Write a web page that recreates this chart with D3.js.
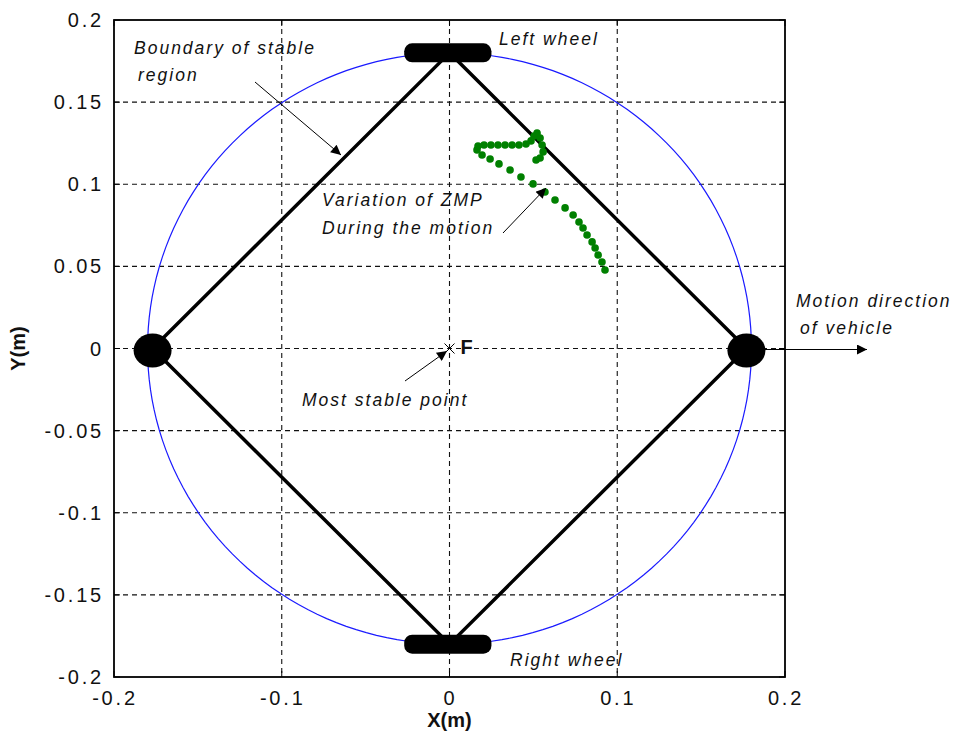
<!DOCTYPE html>
<html>
<head>
<meta charset="utf-8">
<script src="https://cdn.jsdelivr.net/npm/d3@7"></script>
<style>
  html, body { margin: 0; padding: 0; background: #fff; }
  svg { display: block; }
  .tick-label { font-family: "Liberation Sans", Arial, sans-serif; font-size: 20px; letter-spacing: 2.8px; fill: #111; }
  .note { font-family: "Liberation Sans", Arial, sans-serif; font-size: 17.5px; font-style: italic; letter-spacing: 2px; fill: #111; }
  .axis-title { font-family: "Liberation Sans", Arial, sans-serif; font-size: 20px; font-weight: bold; fill: #111; }
</style>
</head>
<body>
<svg id="chart" width="959" height="747"></svg>
<script>
// Axis ticks (metres)
const xTicks = [-0.2, -0.1, 0, 0.1, 0.2];
const yTicks = [-0.2, -0.15, -0.1, -0.05, 0, 0.05, 0.1, 0.15, 0.2];
const xTickLabels = ["-0.2", "-0.1", "0", "0.1", "0.2"];
const yTickLabels = ["-0.2", "-0.15", "-0.1", "-0.05", "0", "0.05", "0.1", "0.15", "0.2"];

// Radius of the stable-region boundary (m)
const boundaryRadius = 0.18;

// Support polygon: left wheel, front caster, right wheel, rear caster
const supportX = [0, 0.177, 0, -0.177];
const supportY = [0.18, 0, -0.18, 0];

// ZMP trajectory during the motion (m)
const zmpX = [0.0927, 0.0909, 0.0886, 0.0868, 0.0850, 0.0820, 0.0796, 0.0772, 0.0737, 0.0689,
              0.0629, 0.0569, 0.0498, 0.0426, 0.0361, 0.0295, 0.0242, 0.0194, 0.0164, 0.0170,
              0.0206, 0.0247, 0.0289, 0.0331, 0.0373, 0.0414, 0.0456, 0.0486, 0.0504, 0.0522,
              0.0540, 0.0552, 0.0558, 0.0540, 0.0516];
const zmpY = [0.0478, 0.0527, 0.0569, 0.0612, 0.0649, 0.0691, 0.0734, 0.0770, 0.0813, 0.0856,
              0.0904, 0.0953, 0.1002, 0.1044, 0.1087, 0.1124, 0.1154, 0.1178, 0.1209, 0.1233,
              0.1239, 0.1239, 0.1239, 0.1239, 0.1239, 0.1239, 0.1245, 0.1264, 0.1294, 0.1312,
              0.1282, 0.1239, 0.1197, 0.1160, 0.1148];

const svg = d3.select("#chart");
const x = d3.scaleLinear().domain([-0.2, 0.2]).range([114, 785]);
const y = d3.scaleLinear().domain([-0.2, 0.2]).range([677, 20]);

// arrow heads
const defs = svg.append("defs");
defs.append("marker")
  .attr("id", "arrow").attr("viewBox", "0 0 10 10")
  .attr("refX", 10).attr("refY", 5)
  .attr("markerWidth", 15).attr("markerHeight", 10)
  .attr("markerUnits", "userSpaceOnUse")
  .attr("orient", "auto")
  .append("path").attr("d", "M0,0 L10,5 L0,10 Z").attr("fill", "#000");

// grid
const grid = svg.append("g").attr("stroke", "#111").attr("stroke-width", 1.1).attr("stroke-dasharray", "5,4");
grid.selectAll("line.gx").data(xTicks.slice(1, -1)).join("line")
  .attr("x1", d => x(d)).attr("x2", d => x(d)).attr("y1", y(0.2)).attr("y2", y(-0.2));
grid.selectAll("line.gy").data(yTicks.slice(1, -1)).join("line")
  .attr("y1", d => y(d)).attr("y2", d => y(d)).attr("x1", x(-0.2)).attr("x2", x(0.2));

// frame and inward ticks
svg.append("rect").attr("x", x(-0.2)).attr("y", y(0.2))
  .attr("width", x(0.2) - x(-0.2)).attr("height", y(-0.2) - y(0.2))
  .attr("fill", "none").attr("stroke", "#000").attr("stroke-width", 1.8);

const tk = svg.append("g").attr("stroke", "#000").attr("stroke-width", 1);
xTicks.forEach(t => {
  tk.append("line").attr("x1", x(t)).attr("x2", x(t)).attr("y1", y(-0.2)).attr("y2", y(-0.2) - 6);
  tk.append("line").attr("x1", x(t)).attr("x2", x(t)).attr("y1", y(0.2)).attr("y2", y(0.2) + 6);
});
yTicks.forEach(t => {
  tk.append("line").attr("y1", y(t)).attr("y2", y(t)).attr("x1", x(-0.2)).attr("x2", x(-0.2) + 6);
  tk.append("line").attr("y1", y(t)).attr("y2", y(t)).attr("x1", x(0.2)).attr("x2", x(0.2) - 6);
});

svg.append("g").selectAll("text").data(xTicks).join("text")
  .attr("class", "tick-label").attr("x", d => x(d) + 1).attr("y", y(-0.2) + 28)
  .attr("text-anchor", "middle").text((d, i) => xTickLabels[i]);
svg.append("g").selectAll("text").data(yTicks).join("text")
  .attr("class", "tick-label").attr("x", x(-0.2) - 10).attr("y", d => y(d) + 7)
  .attr("text-anchor", "end").text((d, i) => yTickLabels[i]);

svg.append("text").attr("class", "axis-title").attr("x", x(0)).attr("y", 727)
  .attr("text-anchor", "middle").text("X(m)");
svg.append("text").attr("class", "axis-title")
  .attr("transform", `translate(25,${y(0)}) rotate(-90)`)
  .attr("text-anchor", "middle").text("Y(m)");

// stable-region boundary
const circ = d3.range(0, 361, 2).map(a => [boundaryRadius * Math.cos(a * Math.PI / 180), boundaryRadius * Math.sin(a * Math.PI / 180)]);
svg.append("path").attr("d", d3.line().x(d => x(d[0])).y(d => y(d[1]))(circ))
  .attr("fill", "none").attr("stroke", "#1a1aff").attr("stroke-width", 1.2);

// support polygon
const poly = supportX.map((v, i) => [v, supportY[i]]);
svg.append("path").attr("d", d3.line().x(d => x(d[0])).y(d => y(d[1])).curve(d3.curveLinearClosed)(poly))
  .attr("fill", "none").attr("stroke", "#000").attr("stroke-width", 3.5);

// wheels (left wheel at top, right wheel at bottom)
[supportY[0], supportY[2]].forEach(wy => {
  svg.append("rect").attr("x", x(-0.027)).attr("y", y(wy) - 9.5)
    .attr("width", x(0.025) - x(-0.027)).attr("height", 19)
    .attr("rx", 8).attr("fill", "#000");
});
// casters
[supportX[1], supportX[3]].forEach(cx => {
  svg.append("ellipse").attr("cx", x(cx)).attr("cy", y(0) + 2)
    .attr("rx", 19).attr("ry", 17).attr("fill", "#000");
});

// motion direction arrow
svg.append("line").attr("x1", x(supportX[1]) + 18).attr("y1", y(0) + 1)
  .attr("x2", 867).attr("y2", y(0) + 1)
  .attr("stroke", "#000").attr("stroke-width", 1.2).attr("marker-end", "url(#arrow)");

// ZMP points
svg.append("g").selectAll("circle").data(zmpX).join("circle")
  .attr("cx", d => x(d)).attr("cy", (d, i) => y(zmpY[i]))
  .attr("r", 3.8).attr("fill", "#008000");

// most stable point
const fx = x(0), fy = y(0);
svg.append("path").attr("d", `M${fx-5},${fy-5}L${fx+5},${fy+5}M${fx-5},${fy+5}L${fx+5},${fy-5}`)
  .attr("stroke", "#000").attr("stroke-width", 1);
svg.append("text").attr("x", fx + 11).attr("y", fy + 5)
  .attr("font-family", "Liberation Sans, Arial, sans-serif").attr("font-size", 20)
  .attr("font-weight", "bold").attr("fill", "#111").text("F");

// annotation arrows
const arrows = [
  [255, 82, 341, 155],
  [503, 233, 546, 188],
  [405, 381, 447, 351]
];
svg.append("g").selectAll("line").data(arrows).join("line")
  .attr("x1", d => d[0]).attr("y1", d => d[1]).attr("x2", d => d[2]).attr("y2", d => d[3])
  .attr("stroke", "#000").attr("stroke-width", 1).attr("marker-end", "url(#arrow)");

// annotations
const notes = [
  ["Left wheel", 499, 45],
  ["Boundary of stable", 134, 54],
  ["region", 138, 81],
  ["Variation of ZMP", 322, 206],
  ["During the motion", 322, 234],
  ["Most stable point", 302, 406],
  ["Motion direction", 796, 307],
  ["of vehicle", 800, 334],
  ["Right wheel", 510, 666]
];
svg.append("g").selectAll("text").data(notes).join("text")
  .attr("class", "note").attr("x", d => d[1]).attr("y", d => d[2]).text(d => d[0]);
</script>
</body>
</html>
